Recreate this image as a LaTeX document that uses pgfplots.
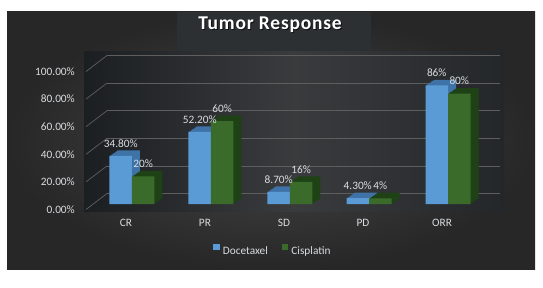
\documentclass[border=0pt]{standalone}
\usepackage{pgfplots}
\usepackage{pgfplotstable}
\pgfplotsset{compat=1.18}
\usepackage{fontspec}
\setmainfont{Carlito}
\definecolor{panelin}{HTML}{474747}
\definecolor{panelout}{HTML}{272727}
\definecolor{titlebox}{HTML}{2D3033}
\definecolor{plotleft}{HTML}{1C1F22}
\definecolor{plotmid}{HTML}{393B3D}
\definecolor{plotright}{HTML}{24272A}
\definecolor{gridc}{HTML}{5E5E5E}
\definecolor{txt}{HTML}{D9DCE0}
\definecolor{bluef}{HTML}{5B9BD5}
\definecolor{blues}{HTML}{3F73A8}
\definecolor{greenf}{HTML}{3A6B2A}
\definecolor{greens}{HTML}{1E4215}
\pgfplotstableread{
x y lab
0 34.8 34.80\%
1 52.2 52.20\%
2 8.7 8.70\%
3 4.3 4.30\%
4 86 86\%
}\docetaxel
\pgfplotstableread{
x y lab
0 20 20\%
1 60 60\%
2 16 16\%
3 4 4\%
4 80 80\%
}\cisplatin
\begin{document}
\begin{tikzpicture}[x=1pt,y=1pt]
\fill[white] (0,0) rectangle (543,287);
\shade[inner color=panelin, outer color=panelout] (7,18) rectangle (535,275);
\fill[titlebox] (177,235) rectangle (371,275);
\shade[left color=plotleft, right color=plotright, middle color=plotmid] (84,76) rectangle (504,235);
\node[text=black, opacity=0.7, font=\bfseries\fontsize{19.5}{22}\selectfont\addfontfeature{LetterSpace=4}] at (271,261) {Tumor Response};
\node[text=white, font=\bfseries\fontsize{19.5}{22}\selectfont\addfontfeature{LetterSpace=4}] at (270,262) {Tumor Response};
\begin{axis}[
  at={(107pt,93.5pt)}, anchor=south west,
  scale only axis, width=393pt, height=138pt,
  xmin=-0.316, xmax=4.658, ymin=0, ymax=100,
  clip=false,
  axis line style={draw=none},
  major tick length=0pt,
  ymajorgrids, major grid style={gridc, line width=0.7pt},
  ytick={0,20,40,60,80,100},
  yticklabels={0.00\%,20.00\%,40.00\%,60.00\%,80.00\%,100.00\%},
  xtick={0,1,2,3,4},
  xticklabels={CR,PR,SD,PD,ORR},
  ticklabel style={text=txt, font=\fontsize{11.3}{13}\selectfont},
  yticklabel style={anchor=east, inner sep=0pt, xshift=-32pt, yshift=-16pt},
  xticklabel style={anchor=center, yshift=-29.5pt, xshift=-6pt},
  /pgf/number format/assume math mode=true,
  legend columns=2,
  legend style={at={(0.4224,-0.4167)}, anchor=center, draw=none, fill=none,
    text=txt, font=\fontsize{11.3}{13}\selectfont,
    /tikz/every odd column/.append style={column sep=1pt},
    /tikz/every even column/.append style={column sep=12pt}},
  legend image code/.code={\fill[#1] (0pt,11.5pt) rectangle (6.5pt,18pt);},
]
\pgfplotsinvokeforeach{0,20,40,60,80,100}{\draw[gridc, line width=0.7pt] (axis cs:-0.316,#1) -- ++(-21pt,-16pt);}
% depth (side and top faces), drawn from the back forwards
\pgfplotsinvokeforeach{8,7,6,5,4,3,2,1}{
\addplot[ybar, bar width=22.5pt, bar shift=-11.25pt, fill=blues, draw=none, xshift=#1pt, yshift={-10.5pt+#1*0.6875pt}, forget plot]
  table[x=x, y=y] {\docetaxel};
\addplot[ybar, bar width=22.5pt, bar shift=11.25pt, fill=greens, draw=none, xshift=#1pt, yshift={-10.5pt+#1*0.6875pt}, forget plot]
  table[x=x, y=y] {\cisplatin};
}
% front faces
\addplot[ybar, bar width=22.5pt, bar shift=-11.25pt, fill=bluef, draw=none, yshift=-10.5pt,
  point meta=explicit symbolic, nodes near coords,
  nodes near coords style={text=txt, anchor=center, xshift=-11.25pt, yshift=12.5pt, font=\fontsize{11.3}{13}\selectfont}]
  table[x=x, y=y, meta=lab] {\docetaxel};
\addplot[ybar, bar width=22.5pt, bar shift=11.25pt, fill=greenf, draw=none, yshift=-10.5pt,
  point meta=explicit symbolic, nodes near coords,
  nodes near coords style={text=txt, anchor=center, xshift=11.25pt, yshift=12.5pt, font=\fontsize{11.3}{13}\selectfont}]
  table[x=x, y=y, meta=lab] {\cisplatin};
\legend{Docetaxel, Cisplatin}
\end{axis}
\end{tikzpicture}
\end{document}
